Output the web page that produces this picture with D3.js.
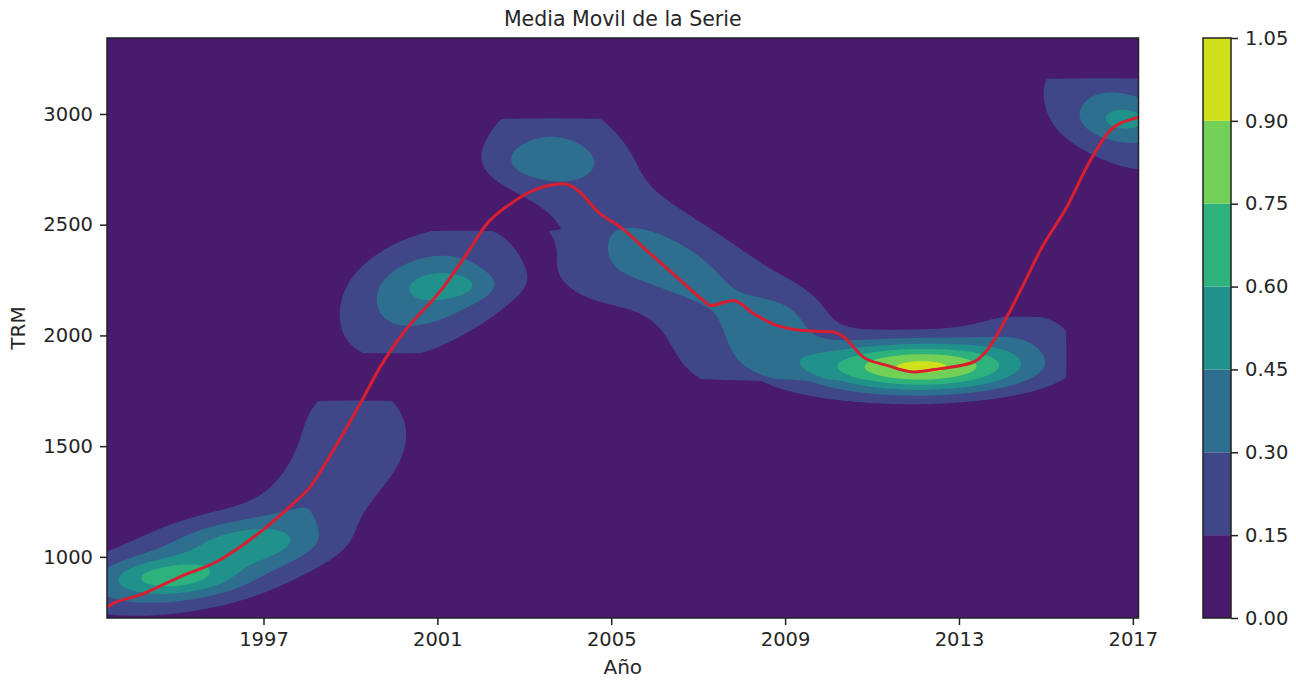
<!DOCTYPE html>
<html><head><meta charset="utf-8">
<script src="https://cdn.jsdelivr.net/npm/d3@7"></script>
<style>
body{margin:0;background:#fff}
text{font-family:"DejaVu Sans",sans-serif;fill:#262626}
</style>
</head><body>
<svg id="c" width="1296" height="680"></svg>
<script>
// ---- Datos ----
const anios = [1993.40,1993.48,1994.17,1995.09,1995.93,1996.47,1997.08,1997.69,1998.08,1998.61,1999.23,1999.69,2000.15,2001.14,2001.68,2002.14,2002.68,2003.21,2003.90,2004.13,2004.75,2005.21,2005.90,2006.51,2007.12,2007.28,2007.81,2008.28,2008.81,2009.35,2010.11,2010.35,2010.80,2011.34,2011.96,2012.57,2013.34,2013.64,2014.10,2014.49,2014.87,2015.48,2016.02,2016.48,2017.02,2017.13];
const mediaMovil = [772,783,828,911,979,1046,1137,1242,1317,1483,1694,1859,1994,2218,2369,2504,2594,2655,2685,2670,2549,2489,2369,2263,2158,2135,2158,2098,2045,2023,2015,1993,1902,1865,1835,1850,1880,1932,2083,2233,2384,2580,2790,2926,2979,2985];
const ticksAnio = [1997,2001,2005,2009,2013,2017];
const ticksTRM = [1000,1500,2000,2500,3000];
const niveles = [0,0.15,0.30,0.45,0.60,0.75,0.90,1.05];
// Componentes de la densidad estimada: [anio, trm, sAnio, sTRM, rho, peso, anioMax, trmMin, trmMax]
const componentesKDE = [
  [2012.22,1858,1.725,81,0,0.84,2015.49,null,null],
  [2010.50,1844,2.76,135,0,0.12,2015.49,null,null],
  [2014.53,2025,1.035,90,0,0.18,2015.49,null,2084],
  [2008.90,2061,0.69,99,0,0.13,null,null,null],
  [2008.43,2002,1.15,158,0,0.09,null,1799,null],
  [2003.48,2860,1.265,181,0,0.22,null,null,2982],
  [2004.52,2634,1.38,271,-0.3,0.065,null,null,2982],
  [2005.32,2485,1.38,271,-0.3,0.065,null,null,null],
  [2006.13,2364,1.38,271,-0.3,0.065,null,null,null],
  [2006.93,2228,1.38,271,-0.2,0.065,null,1799,null],
  [2007.85,2138,1.38,271,0,0.05,null,1799,null],
  [2008.66,2070,1.38,271,0,0.065,null,1799,null],
  [2004.63,2251,0.805,113,0,0.10,null,null,null],
  [2003.48,2783,0.805,63,0,0.15,null,null,null],
  [2006.24,2332,1.15,135,-0.6,0.16,null,null,null],
  [2000.61,2183,1.43,226,0.4,0.33,null,1912,2476],
  [2001.41,2224,0.69,45,0,0.13,null,null,null],
  [2001.25,2219,1.265,113,0,0.12,null,null,null],
  [1999.11,1573,1.265,226,0,0.22,null,null,1709],
  [1998.19,1303,0.92,135,0.4,0.15,null,null,null],
  [1994.81,910,0.92,50,0,0.20,null,null,null],
  [1994.63,887,1.495,99,0.3,0.30,null,null,null],
  [1995.55,986,2.185,172,0.4,0.16,null,null,null],
  [1996.77,1068,1.035,63,0,0.17,null,null,null],
  [1996.70,1054,1.495,126,0.3,0.20,null,null,null],
  [2016.71,2996,1.43,203,-0.4,0.32,null,null,3163],
  [2016.83,2973,0.69,59,0,0.18,null,null,null]
];

// ---- Dibujo ----
const svg = d3.select("#c");
const m = {l:107, r:1138.5, t:38, b:618};
const x = d3.scaleLinear().domain([1993.40, 2017.13]).range([m.l, m.r]);
const y = d3.scaleLinear().domain([724, 3343]).range([m.b, m.t]);
const vmax = niveles[niveles.length-1];
const colores = niveles.slice(0,-1).map((v,i)=>d3.interpolateViridis(((niveles[i]+niveles[i+1])/2)/vmax));

svg.append("defs").append("clipPath").attr("id","clip")
  .append("rect").attr("x",m.l).attr("y",m.t).attr("width",m.r-m.l).attr("height",m.b-m.t);

const plot = svg.append("g").attr("clip-path","url(#clip)");
plot.append("rect").attr("x",m.l).attr("y",m.t).attr("width",m.r-m.l).attr("height",m.b-m.t).attr("fill",colores[0]);

const paso = 2;
const nx = Math.ceil((m.r-m.l)/paso), ny = Math.ceil((m.b-m.t)/paso);
const vals = new Float64Array(nx*ny);
for (let j=0;j<ny;j++){
  const t = y.invert(m.t+(j+0.5)*paso);
  for (let i=0;i<nx;i++){
    const a = x.invert(m.l+(i+0.5)*paso);
    let s = 0;
    for (const c of componentesKDE){
      const [ca,ct,sa,st,rho,w,aMax,tMin,tMax] = c;
      if (aMax!==null && a>aMax) continue;
      if (tMin!==null && t<tMin) continue;
      if (tMax!==null && t>tMax) continue;
      const u=(a-ca)/sa, v=(t-ct)/st;
      const q=(u*u-2*rho*u*v+v*v)/(1-rho*rho);
      s += w*Math.exp(-q/2);
    }
    vals[j*nx+i]=s;
  }
}
const contornos = d3.contours().size([nx,ny]).thresholds(niveles.slice(1,-1))(vals);
const geo = d3.geoPath(d3.geoIdentity().scale(paso).translate([m.l,m.t]));
plot.selectAll("path.c").data(contornos).join("path").attr("class","c")
  .attr("d",geo).attr("fill",(d,i)=>colores[i+1]);

const linea = d3.line().x((d,i)=>x(anios[i])).y(d=>y(d)).curve(d3.curveMonotoneX);
plot.append("path").datum(mediaMovil).attr("d",linea).attr("fill","none")
  .attr("stroke","#d81f32").attr("stroke-width",3).attr("stroke-linejoin","round");

svg.append("rect").attr("x",m.l).attr("y",m.t).attr("width",m.r-m.l).attr("height",m.b-m.t)
  .attr("fill","none").attr("stroke","#222").attr("stroke-width",1.5);

const fs = 19.5;
const gx = svg.append("g").attr("transform",`translate(0,${m.b})`)
  .call(d3.axisBottom(x).tickValues(ticksAnio).tickFormat(d3.format("d")).tickSize(7).tickPadding(7));
const gy = svg.append("g").attr("transform",`translate(${m.l},0)`)
  .call(d3.axisLeft(y).tickValues(ticksTRM).tickFormat(d3.format("d")).tickSize(7).tickPadding(7));
[gx,gy].forEach(g=>{
  g.select(".domain").remove();
  g.selectAll(".tick line").attr("stroke","#222").attr("stroke-width",1.5);
  g.selectAll(".tick text").attr("font-size",fs).attr("font-family","DejaVu Sans").attr("fill","#262626");
});

svg.append("text").attr("x",(m.l+m.r)/2).attr("y",26).attr("text-anchor","middle")
  .attr("font-size",20.5).text("Media Movil de la Serie");
svg.append("text").attr("x",(m.l+m.r)/2).attr("y",674).attr("text-anchor","middle")
  .attr("font-size",20).text("Año");
svg.append("text").attr("transform",`translate(25,${(m.t+m.b)/2}) rotate(-90)`).attr("text-anchor","middle")
  .attr("font-size",20).text("TRM");

// Barra de color
const cb = {x:1203, w:28};
const yc = d3.scaleLinear().domain([0,vmax]).range([m.b,m.t]);
svg.append("g").selectAll("rect").data(colores).join("rect")
  .attr("x",cb.x).attr("width",cb.w)
  .attr("y",(d,i)=>yc(niveles[i+1])).attr("height",(d,i)=>yc(niveles[i])-yc(niveles[i+1]))
  .attr("fill",d=>d);
svg.append("rect").attr("x",cb.x).attr("y",m.t).attr("width",cb.w).attr("height",m.b-m.t)
  .attr("fill","none").attr("stroke","#222").attr("stroke-width",1.5);
const gc = svg.append("g").attr("transform",`translate(${cb.x+cb.w},0)`)
  .call(d3.axisRight(yc).tickValues(niveles).tickFormat(d3.format(".2f")).tickSize(7).tickPadding(7));
gc.select(".domain").remove();
gc.selectAll(".tick line").attr("stroke","#222").attr("stroke-width",1.5);
gc.selectAll(".tick text").attr("font-size",fs).attr("font-family","DejaVu Sans").attr("fill","#262626");
</script>
</body></html>
